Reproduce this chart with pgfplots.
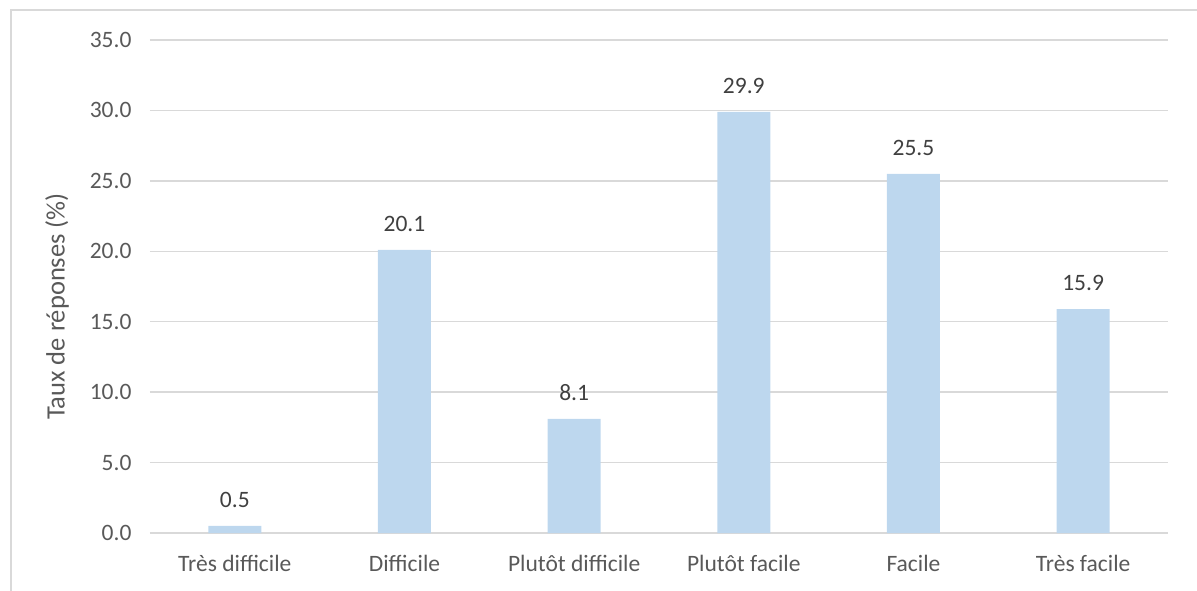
\documentclass[border=0pt]{standalone}
\usepackage{fontspec}
\setmainfont{Carlito}
\usepackage{pgfplots}
\pgfplotsset{compat=1.18}
\definecolor{barblue}{HTML}{BDD7EE}
\definecolor{gridgray}{HTML}{D9D9D9}
\definecolor{txtgray}{HTML}{595959}
\definecolor{valgray}{HTML}{404040}
\newcommand{\tickfont}{\fontsize{23.5}{28}\selectfont}
\newcommand{\titlefont}{\fontsize{26.5}{31}\selectfont}

\begin{document}
\begin{tikzpicture}
\begin{axis}[
  at={(0,0)}, anchor=south west,
  scale only axis, width=1018pt, height=493pt,
  xmin=-0.5, xmax=5.5, ymin=0, ymax=35,
  ytick={0,5,...,35},
  xtick={0,...,5},
  xticklabels={Très difficile, Difficile, Plutôt difficile, Plutôt facile, Facile, Très facile},
  axis line style={draw=none},
  major tick length=0pt,
  ymajorgrids,
  grid style={gridgray, line width=1.5pt},
  /pgf/number format/assume math mode=true,
  yticklabel style={font=\tickfont, text=txtgray, xshift=-15pt,
    /pgf/number format/.cd, fixed, fixed zerofill, precision=1},
  xticklabel style={font=\tickfont, text=txtgray, yshift=-19pt},
  ylabel={Taux de réponses (\%)},
  ylabel style={font=\titlefont, text=txtgray,
    at={(axis description cs:-0.0914,0.4594)}, anchor=center},
  ybar, bar width=53pt,
  nodes near coords,
  every node near coord/.append style={font=\tickfont, text=valgray,
    anchor=south, yshift=15pt,
    /pgf/number format/.cd, fixed, fixed zerofill, precision=1},
]
\addplot[fill=barblue, draw=none] coordinates {
  (0,0.5) (1,20.1) (2,8.1) (3,29.9) (4,25.5) (5,15.9)
};
\end{axis}
% chart frame (top and left edges)
\draw[gridgray, line width=1.5pt] (-139pt,-60pt) -- (-139pt,523pt) -- (1050pt,523pt);
\pgfresetboundingbox
\path[use as bounding box] (-150pt,-57pt) rectangle (1047pt,533pt);
\end{tikzpicture}
\end{document}
